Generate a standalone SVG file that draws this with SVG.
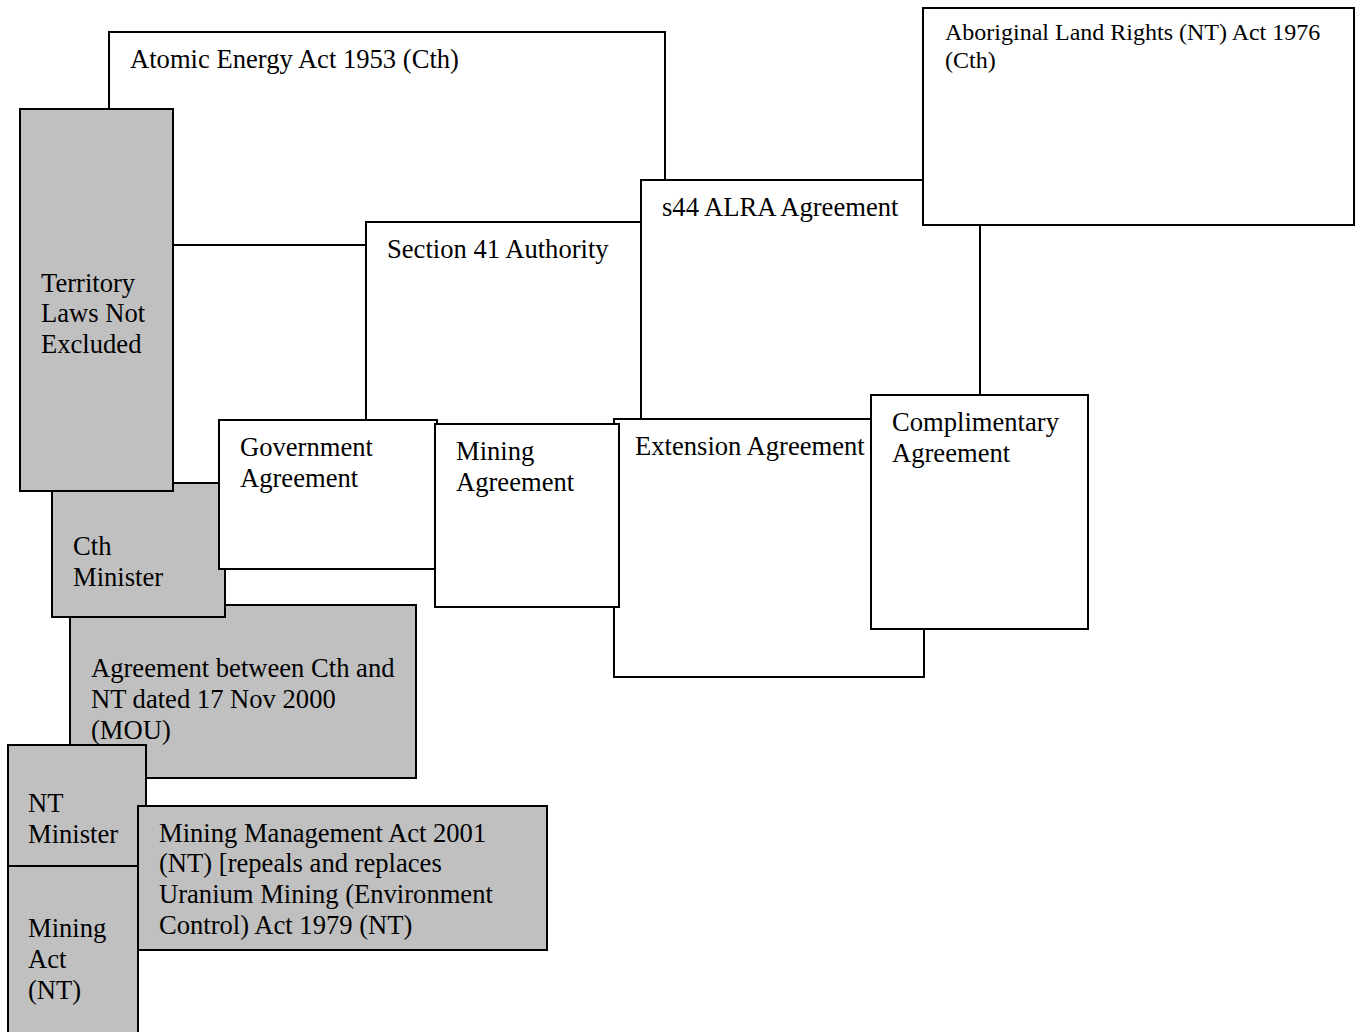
<svg xmlns="http://www.w3.org/2000/svg" width="1362" height="1032" viewBox="0 0 1362 1032">
<style>
  .w { fill: #ffffff; stroke: #000000; stroke-width: 2; }
  .g { fill: #c0c0c0; stroke: #000000; stroke-width: 2; }
  text { font-family: "Liberation Serif", "Times New Roman", serif; font-size: 26.6px; fill: #000000; }
  .sm { font-size: 24px; }
</style>
<rect width="1362" height="1032" fill="#ffffff"/>
<g id="atomic">
  <rect class="w" x="109" y="32" width="556" height="213"/>
  <text x="130" y="68">Atomic Energy Act 1953 (Cth)</text>
</g>
<g id="section41">
  <rect class="w" x="366" y="222" width="294" height="208"/>
  <text x="387" y="258">Section 41 Authority</text>
</g>
<g id="s44">
  <rect class="w" x="641" y="180" width="339" height="320"/>
  <text x="662" y="216">s44 ALRA Agreement</text>
</g>
<g id="aboriginal">
  <rect class="w" x="923" y="8" width="431" height="217"/>
  <text class="sm" x="945" y="40">Aboriginal Land Rights (NT) Act 1976</text>
  <text class="sm" x="945" y="68">(Cth)</text>
</g>
<g id="mou">
  <rect class="g" x="70" y="605" width="346" height="173"/>
  <text x="91" y="677">Agreement between Cth and</text>
  <text x="91" y="708">NT dated 17 Nov 2000</text>
  <text x="91" y="739">(MOU)</text>
</g>
<g id="cth-minister">
  <rect class="g" x="52" y="483" width="173" height="134"/>
  <text x="73" y="555">Cth</text>
  <text x="73" y="586">Minister</text>
</g>
<g id="territory">
  <rect class="g" x="20" y="109" width="153" height="382"/>
  <text x="41" y="292">Territory</text>
  <text x="41" y="322">Laws Not</text>
  <text x="41" y="353">Excluded</text>
</g>
<g id="government">
  <rect class="w" x="219" y="420" width="218" height="149"/>
  <text x="240" y="456">Government</text>
  <text x="240" y="487">Agreement</text>
</g>
<g id="extension">
  <rect class="w" x="614" y="419" width="310" height="258"/>
  <text x="635" y="455">Extension Agreement</text>
</g>
<g id="mining-agreement">
  <rect class="w" x="435" y="424" width="184" height="183"/>
  <text x="456" y="460">Mining</text>
  <text x="456" y="491">Agreement</text>
</g>
<g id="complimentary">
  <rect class="w" x="871" y="395" width="217" height="234"/>
  <text x="892" y="431">Complimentary</text>
  <text x="892" y="462">Agreement</text>
</g>
<g id="nt-minister">
  <rect class="g" x="8" y="745" width="138" height="121"/>
  <text x="28" y="812">NT</text>
  <text x="28" y="843">Minister</text>
</g>
<g id="mining-management-act">
  <rect class="g" x="138" y="806" width="409" height="144"/>
  <text x="159" y="842">Mining Management Act 2001</text>
  <text x="159" y="872">(NT) [repeals and replaces</text>
  <text x="159" y="903">Uranium Mining (Environment</text>
  <text x="159" y="934">Control) Act 1979 (NT)</text>
</g>
<g id="mining-act">
  <rect class="g" x="8" y="866" width="130" height="180"/>
  <text x="28" y="937">Mining</text>
  <text x="28" y="968">Act</text>
  <text x="28" y="999">(NT)</text>
</g>
</svg>
